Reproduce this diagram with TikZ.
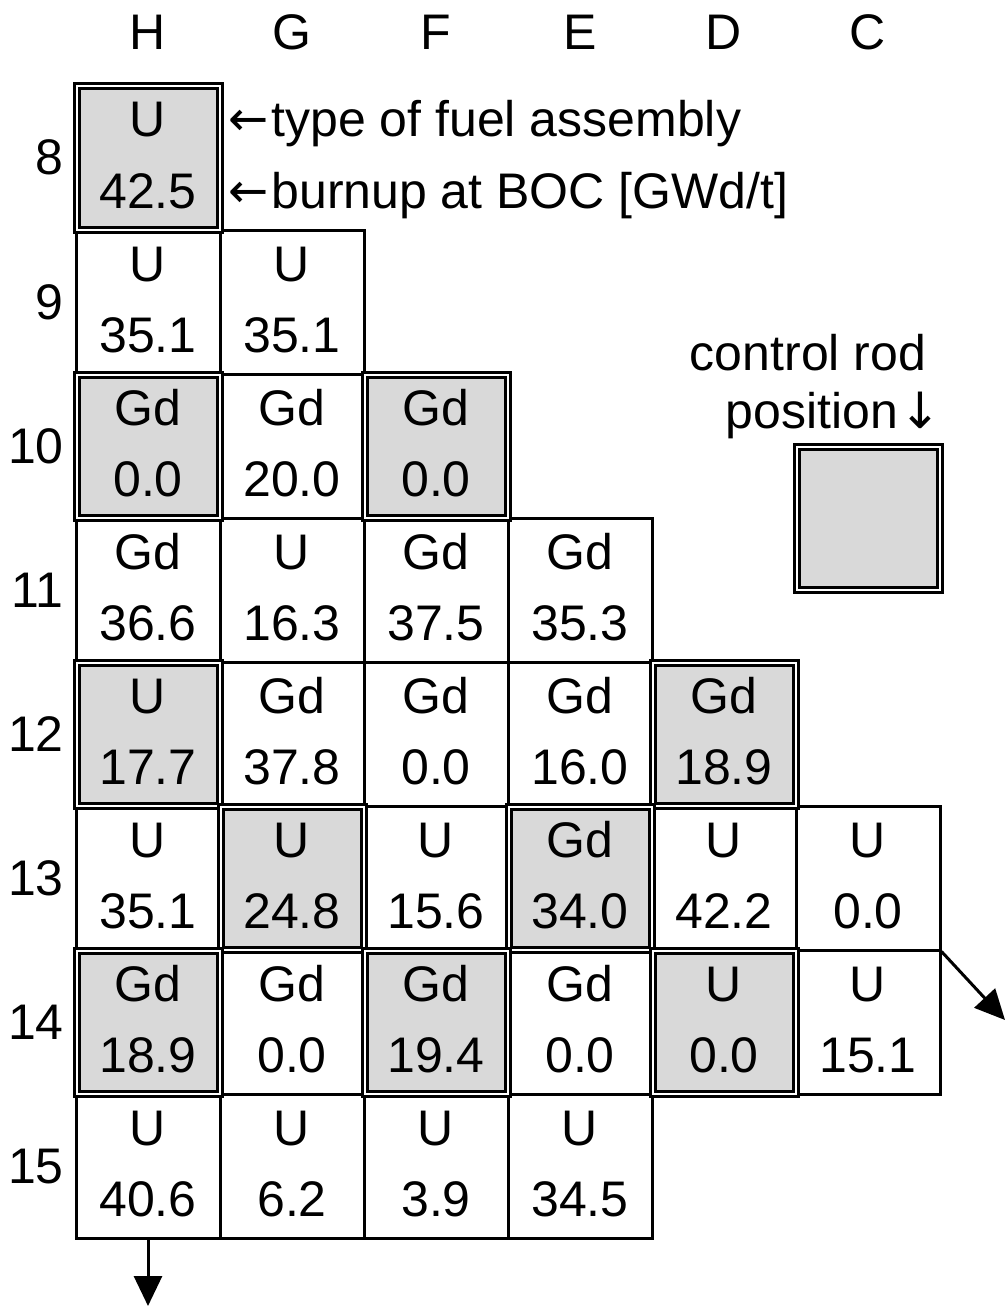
\documentclass[tikz,border=0pt]{standalone}
\usepackage{fontspec}
\setmainfont{Liberation Sans}
\newfontfamily\arrfont{DejaVu Sans}
\usetikzlibrary{arrows.meta,calc}
\definecolor{cellgray}{HTML}{D9D9D9}
\newcommand{\larr}{{\arrfont\fontsize{48}{48}\selectfont\raisebox{1pt}{←}}\hspace{3pt}}
\newcommand{\darr}{{\arrfont\fontsize{50}{50}\selectfont ↓}}
\tikzset{
  cellw/.style={draw, line width=3pt, minimum size=144pt, inner sep=0pt, fill=white},
  cellg/.style={draw, line width=3pt, double=white, double distance=2pt, minimum size=143pt, inner sep=0pt, fill=cellgray},
  txt/.style={font=\fontsize{50}{58}\selectfont, inner sep=0pt},
  arr/.style={line width=3pt, -{Triangle[length=30pt,width=28pt]}}
}
\begin{document}
\begin{tikzpicture}[x=1pt,y=-1pt]
\useasboundingbox (0,0) rectangle (1006,1308);
% column letters
\foreach \ci/\l in {0/H,1/G,2/F,3/E,4/D,5/C}{
  \node[txt, anchor=base] (col\l) at ({148+144*\ci},50) {\l};
}
% row numbers
\foreach \r in {8,...,15}{
  \node[txt, anchor=base east] (row\r) at (64,{158+144*(\r-8)+17}) {\r};
}
\def\celldata{0/8/U/42.5/1,
  0/9/U/35.1/0, 1/9/U/35.1/0,
  0/10/Gd/0.0/1, 1/10/Gd/20.0/0, 2/10/Gd/0.0/1,
  0/11/Gd/36.6/0, 1/11/U/16.3/0, 2/11/Gd/37.5/0, 3/11/Gd/35.3/0,
  0/12/U/17.7/1, 1/12/Gd/37.8/0, 2/12/Gd/0.0/0, 3/12/Gd/16.0/0, 4/12/Gd/18.9/1,
  0/13/U/35.1/0, 1/13/U/24.8/1, 2/13/U/15.6/0, 3/13/Gd/34.0/1, 4/13/U/42.2/0, 5/13/U/0.0/0,
  0/14/Gd/18.9/1, 1/14/Gd/0.0/0, 2/14/Gd/19.4/1, 3/14/Gd/0.0/0, 4/14/U/0.0/1, 5/14/U/15.1/0,
  0/15/U/40.6/0, 1/15/U/6.2/0, 2/15/U/3.9/0, 3/15/U/34.5/0}
% white cells
\foreach \ci/\r/\t/\b/\g in \celldata{
  \ifnum\g=0
    \node[cellw] (c\ci-\r) at ({148+144*\ci},{158+144*(\r-8)}) {};
  \fi
}
% gray cells (control rod positions)
\foreach \ci/\r/\t/\b/\g in \celldata{
  \ifnum\g=1
    \node[cellg] (c\ci-\r) at ({148+144*\ci},{158+144*(\r-8)}) {};
  \fi
}
% texts
\foreach \ci/\r/\t/\b/\g in \celldata{
  \node[txt, anchor=base] (t\ci-\r) at ({148+144*\ci},{158+144*(\r-8)-21}) {\t};
  \node[txt, anchor=base] (b\ci-\r) at ({148+144*\ci},{158+144*(\r-8)+50}) {\b};
}
% annotations
\node[txt, anchor=base west] (anntype) at (228,137) {\larr type of fuel assembly};
\node[txt, anchor=base west] (annburn) at (228,208) {\larr burnup at BOC [GWd/t]};
% legend
\node[txt, anchor=base] (legA) at (808,370) {control rod};
\node[txt, anchor=base east] (legB) at (942,428) {position\hspace{2pt}\darr};
\node[cellg] (legbox) at (868,518) {};
% arrows
\coordinate (endA) at (148,1306);
\coordinate (endB) at (1005,1020);
\draw[arr] (c0-15.south) -- (endA);
\draw[arr] (c5-13.south east) -- (endB);
\end{tikzpicture}
\end{document}
